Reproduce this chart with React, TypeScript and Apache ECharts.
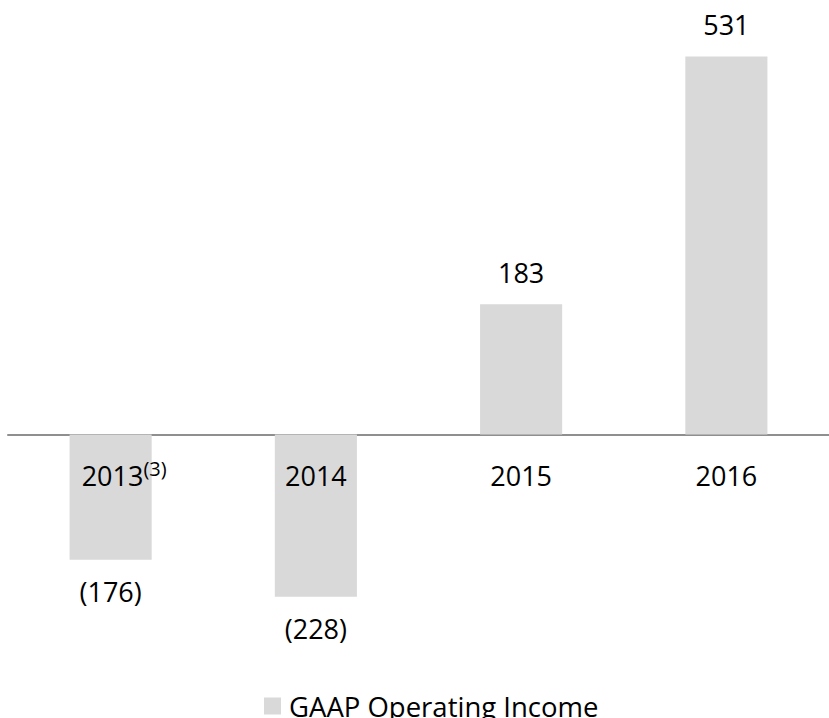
import React, { useEffect, useRef } from "react";
import * as echarts from "echarts";

const categories = ["2013", "2014", "2015", "2016"];
const footnotes = ["(3)", "", "", ""];
const operatingIncome = [-176, -228, 183, 531];
const seriesName = "GAAP Operating Income";

const FONT = "'Open Sans', sans-serif";

export default function App() {
  const ref = useRef<HTMLDivElement>(null);
  useEffect(() => {
    if (!ref.current) return;
    const chart = echarts.init(ref.current, null, { renderer: "svg" });
    chart.setOption({
      animation: false,
      textStyle: { fontFamily: FONT },
      grid: { left: 8, right: -4, top: 7.3, height: 640.8, containLabel: false },
      legend: {
        data: [seriesName],
        left: 259,
        top: 687,
        itemWidth: 17,
        itemHeight: 17,
        icon: "rect",
        textStyle: { fontSize: 27.5, color: "#000", fontFamily: FONT, padding: [0, 0, 0, 3] },
      },
      xAxis: {
        type: "category",
        data: categories,
        axisLine: { onZero: true, lineStyle: { color: "#8f8f8f", width: 2 } },
        axisTick: { show: false },
        axisLabel: { show: false },
      },
      yAxis: {
        type: "value",
        min: -300,
        max: 600,
        show: false,
        splitLine: { show: false },
      },
      series: [
        {
          name: seriesName,
          type: "bar",
          data: operatingIncome.map((v) => ({
            value: v,
            label: { position: v >= 0 ? "top" : "bottom" },
          })),
          barWidth: "40%",
          itemStyle: { color: "#d9d9d9" },
          label: {
            show: true,
            distance: 18,
            fontSize: 27,
            color: "#000",
            fontFamily: FONT,
            formatter: (p: any) => (p.value < 0 ? `(${Math.abs(p.value)})` : `${p.value}`),
          },
        },
        {
          name: "categoryLabels",
          type: "scatter",
          silent: true,
          symbolSize: 0,
          itemStyle: { color: "#000", opacity: 1 },
          z: 5,
          data: categories.map((c) => [c, 0]),
          label: {
            show: true,
            position: "inside",
            offset: [0, 41],
            color: "#000",
            opacity: 1,
            textBorderWidth: 0,
            formatter: (p: any) => {
              const c = categories[p.dataIndex];
              const f = footnotes[p.dataIndex];
              return f ? `{s|}{a|${c}}{b|${f}}` : `{a|${c}}`;
            },
            rich: {
              a: { fontSize: 27, color: "#000", fontFamily: FONT, lineHeight: 30, textBorderWidth: 0 },
              b: { fontSize: 20, color: "#000", fontFamily: FONT, lineHeight: 30, padding: [0, 0, 15, 0], textBorderWidth: 0 },
              s: { width: 27, lineHeight: 30 },
            },
          },
        },
      ],
    });
    return () => chart.dispose();
  }, []);
  return <div ref={ref} style={{ width: 829, height: 718, position: "absolute", left: 0, top: 0 }} />;
}
